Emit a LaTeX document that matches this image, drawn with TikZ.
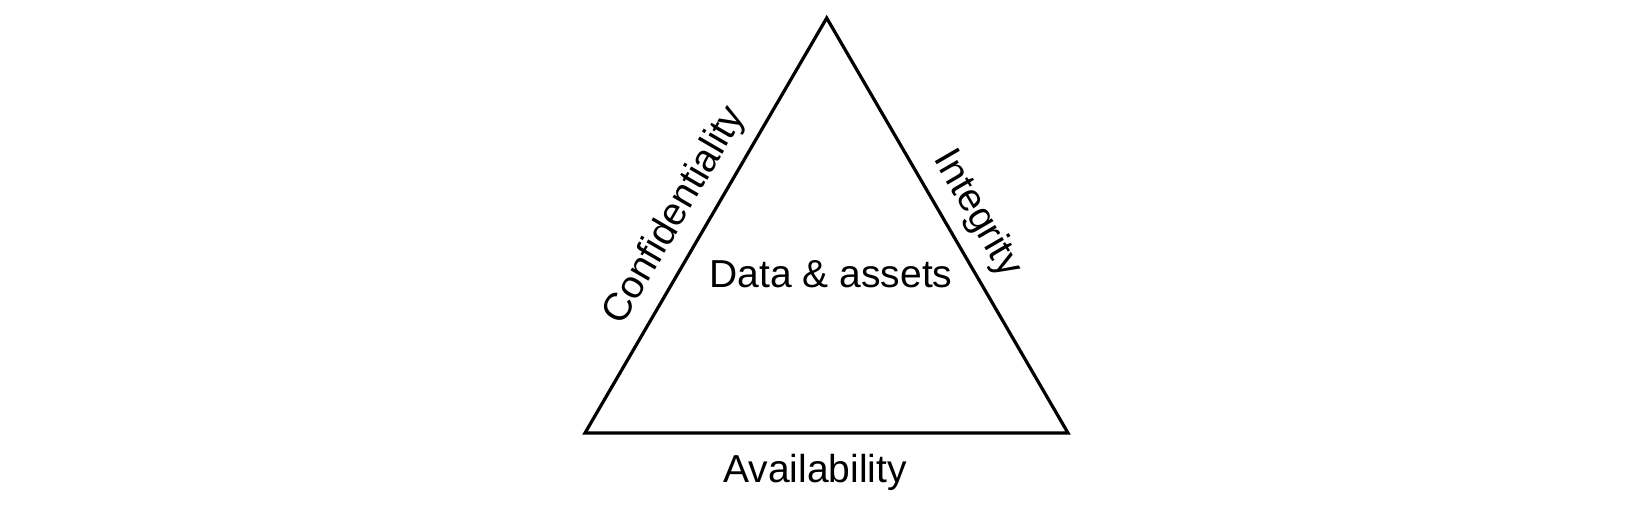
\documentclass[tikz,border=0pt]{standalone}
\usepackage{fontspec}
\setmainfont{Liberation Sans}
\begin{document}
\begin{tikzpicture}[x=1pt,y=1pt,
  edge/.style={line width=3.2pt,line join=miter},
  lbl/.style={font=\fontsize{39}{46}\selectfont,inner sep=0pt}]
\useasboundingbox (0,0) rectangle (1650,507);
\coordinate (top) at (826.7,489);
\coordinate (bl) at (585,74);
\coordinate (br) at (1068,74);
\draw[edge] (bl) -- (top) -- (br) -- cycle;
\path (bl) -- (top) node[lbl,pos=0.485,sloped,anchor=south,yshift=13pt] (conf) {Confidentiality};
\path (top) -- (br) node[lbl,pos=0.51,sloped,anchor=south,yshift=13pt] (integ) {Integrity};
\node[lbl,anchor=base] (data) at (831,220) {Data \& assets};
\node[lbl,anchor=base] (avail) at (815,25) {Availability};
\end{tikzpicture}
\end{document}
